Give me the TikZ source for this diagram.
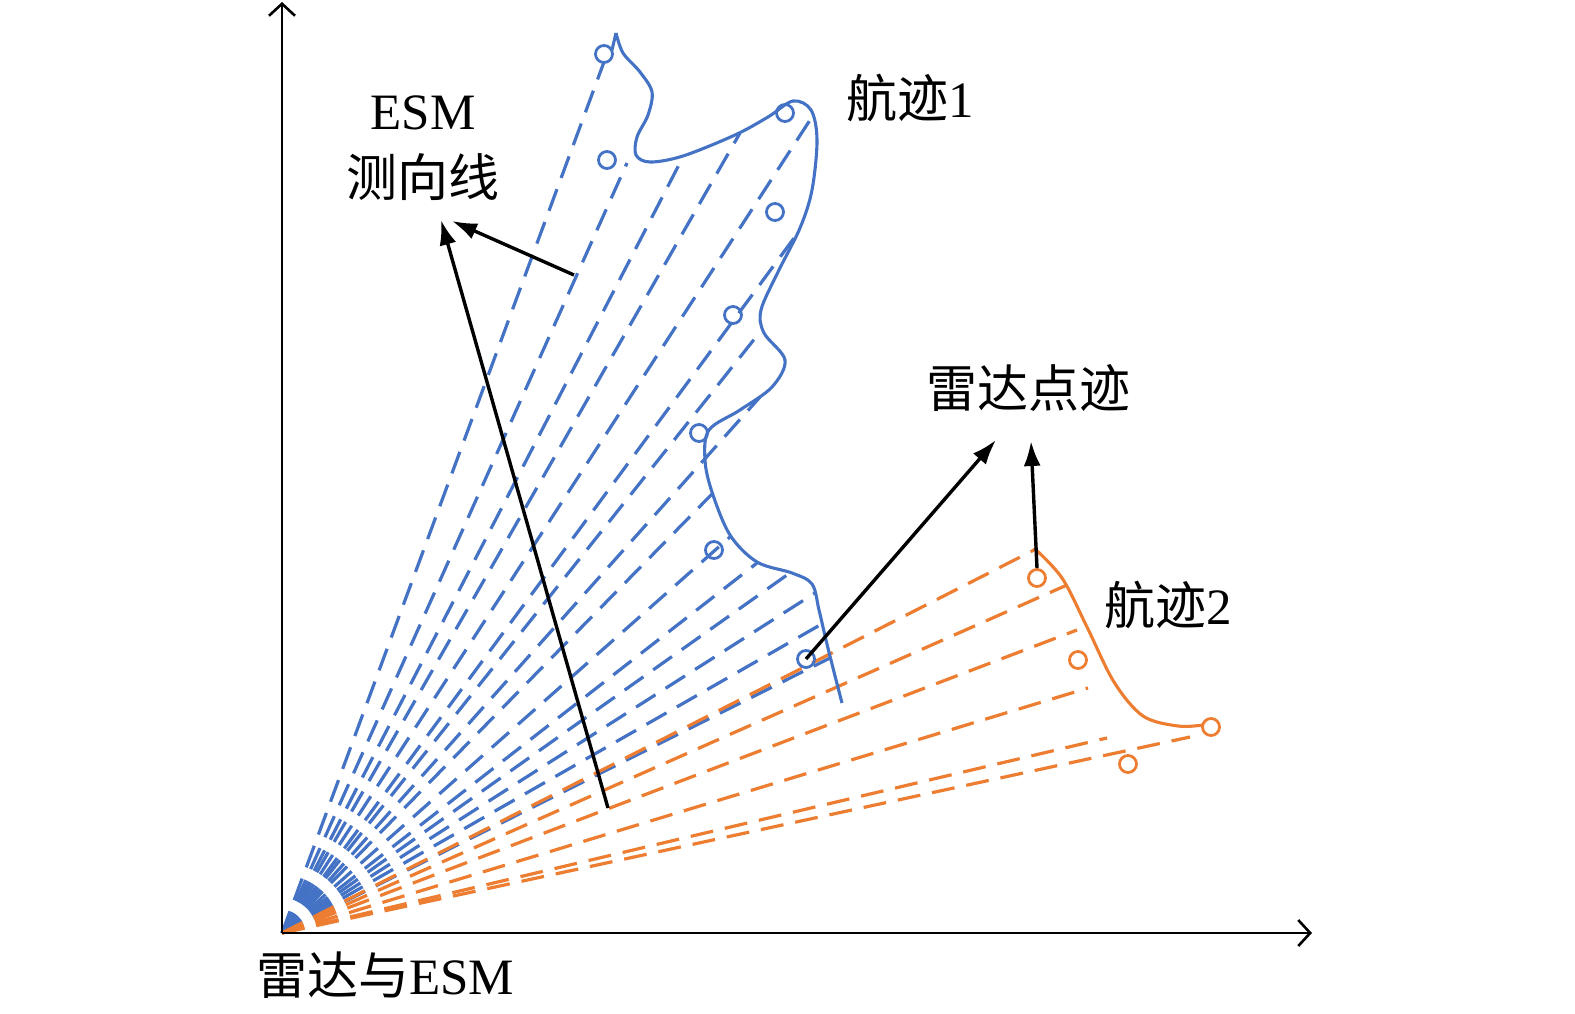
\documentclass[tikz,border=0pt]{standalone}
\usepackage{fontspec}
\setmainfont{Liberation Serif}
\newfontfamily\cjk{Noto Sans CJK SC}
\usetikzlibrary{arrows.meta}
\definecolor{tblue}{RGB}{68,114,196}
\definecolor{torange}{RGB}{237,125,49}
\begin{document}
\begin{tikzpicture}[x=1pt,y=-1pt,
  bl/.style={tblue,line width=3.2pt,dash pattern=on 23pt off 12pt},
  ol/.style={torange,line width=3.2pt,dash pattern=on 23pt off 12pt},
  bcurve/.style={tblue,line width=3.1pt},
  ocurve/.style={torange,line width=3.1pt},
  bdot/.style={circle,draw=tblue,line width=2.8pt,minimum size=17pt,inner sep=0pt},
  odot/.style={circle,draw=torange,line width=2.8pt,minimum size=17pt,inner sep=0pt},
  axis/.style={black,line width=2.8pt,-{Straight Barb[length=12pt,width=26pt,line width=2.6pt]}},
  pointer/.style={black,line width=3.4pt,-{Latex[length=25pt,width=17pt]}},
  lab/.style={inner sep=0pt,font=\fontsize{51}{60}\selectfont},
]
\useasboundingbox (0,0) rectangle (1575,1014);

\coordinate (O) at (282,933);
\coordinate (xend) at (1312,933);
\coordinate (yend) at (282,2);

% blue ESM bearing lines
\foreach \p in {(604,62),(627,163),(683,157),(740,133),(812,117),(800,230),(760,332),(760,397),(713,493),(730,537),(757,563),(787,575),(815,593),(820,625),(830,658)}
  \draw[bl] (O) -- \p;

% orange lines
\foreach \p in {(1036,549),(1067,585),(1077,630),(1088,688),(1107,738),(1190,737)}
  \draw[ol] (O) -- \p;

% track 1
\draw[bcurve] (612,50) -- (616,33);
\draw[bcurve] plot[smooth,tension=0.55] coordinates {(616,33) (623,53) (640,72) (652,92) (648,115) (637,137) (636,155) (650,162) (683,156) (735,135) (768,117) (793,101) (811,110) (817,140) (812,190) (800,228) (778,272) (761,310) (764,333) (785,360) (772,387) (740,410) (709,430) (705,460) (712,492) (730,535) (757,562) (792,573) (812,584) (819,610) (826,640) (834,672) (842,703)};

% track 2
\draw[ocurve] plot[smooth,tension=0.55] coordinates {(1034,548) (1062,578) (1087,627) (1114,682) (1143,716) (1178,726) (1203,725)};

% blue points
\node[bdot] (p1) at (604,54) {};
\node[bdot] (p2) at (607,160) {};
\node[bdot] (p3) at (785,113) {};
\node[bdot] (p4) at (775,212) {};
\node[bdot] (p5) at (733,315) {};
\node[bdot] (p6) at (699,433) {};
\node[bdot] (p7) at (714,550) {};
\node[bdot] (p8) at (806,659) {};

% orange points
\node[odot] (q1) at (1037,578) {};
\node[odot] (q2) at (1078,660) {};
\node[odot] (q3) at (1128,764) {};
\node[odot] (q4) at (1211,727) {};

% axes
\draw[axis] (O) -- (xend);
\draw[axis] (O) -- (yend);

% labels
\node[lab] (esm) at (423,113) {ESM};
\node[lab] (cxx) at (423,177) {\cjk 测向线};
\node[lab] (hj1) at (910,98) {{\cjk 航迹}1};
\node[lab] (ldd) at (1028,388) {\cjk 雷达点迹};
\node[lab] (hj2) at (1168,605) {{\cjk 航迹}2};
\node[lab] (ldesm) at (385,975) {{\cjk 雷达与}ESM};

% pointers
\coordinate (s1) at (608,808);
\coordinate (t1) at (441,220);
\coordinate (s2) at (574,275);
\coordinate (t2) at (452,221);
\coordinate (t3) at (996,440);
\coordinate (t4) at (1031,441);
\draw[pointer] (s1) -- (t1);
\draw[pointer] (s2) -- (t2);
\draw[pointer] (p8.center) -- (t3);
\draw[pointer] (q1.north) -- (t4);
\end{tikzpicture}
\end{document}
